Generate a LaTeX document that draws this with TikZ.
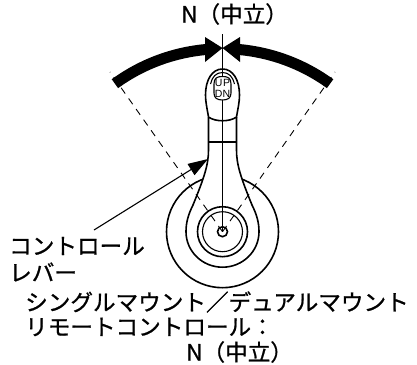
\documentclass[tikz,border=0pt]{standalone}
\usepackage{fontspec}
\setmainfont[RawFeature={embolden=0.9}]{Noto Sans CJK JP}
\newfontfamily\smallfnt{Liberation Sans}
\usetikzlibrary{arrows.meta}
\tikzset{
  lbl/.style={inner sep=0pt,anchor=west,font=\fontsize{22.6}{24}\selectfont},
  small/.style={inner sep=0pt,font=\smallfnt\fontsize{10.5}{11}\selectfont},
  ln/.style={line width=1.6pt,black},
  thin/.style={line width=1.1pt,black},
  dsh/.style={line width=0.9pt,black,dash pattern=on 7pt off 6pt},
  band/.style={line width=11pt,black}
}
\newcommand{\leverpath}{(208.5,117) -- (208.5,150) .. controls (208.5,165) and (204,178) .. (193,205)
  .. controls (188,215) and (186,223) .. (186,231.7)
  .. controls (186,251.3) and (202.3,267.2) .. (222.5,267.2)
  .. controls (242.7,267.2) and (259,251.3) .. (259,231.7)
  .. controls (259,223) and (257,215) .. (252,205)
  .. controls (241,178) and (236.5,165) .. (236.5,150) -- (236.5,117)}
\begin{document}
\begin{tikzpicture}[x=1pt,y=-1pt]
\useasboundingbox (0,0) rectangle (417,364);
\coordinate (P) at (222.5,231.7);
% outer circle, hidden where the lever passes
\draw[ln] (P) circle[radius=56];
\fill[white] \leverpath -- cycle;
% dashed limits
\coordinate (DL) at (110,72);
\coordinate (DR) at (335,72);
\draw[dsh] (P) -- (DL);
\draw[dsh] (P) -- (DR);
% bands
\draw[band] (114.9,83.7) .. controls (141.3,64.5) and (172.5,52.6) .. (206,49.5);
\draw[band] (330.1,83.7) .. controls (303.7,64.5) and (272.5,52.6) .. (239,49.5);
\fill (222.5,48) -- (205,37) -- (205,62) -- cycle;
\fill (222.5,48) -- (240,37) -- (240,62) -- cycle;
% lever outline
\draw[ln] \leverpath;
% head
\draw[ln,fill=white] (208.5,117) .. controls (207,108) and (205.5,102) .. (205.5,95)
  .. controls (205.5,80) and (212,69) .. (222.5,69)
  .. controls (233,69) and (239.5,80) .. (239.5,95)
  .. controls (239.5,102) and (238,108) .. (236.5,117)
  .. controls (230,122) and (215,122) .. (208.5,117);
\draw[thin] (210.5,84) .. controls (212,77) and (216,72.5) .. (222.5,72.5)
  .. controls (229,72.5) and (233,77) .. (234.5,84);
% cross line and axis
\draw[thin] (208.5,142) -- (236.5,142);
\coordinate (AT) at (222.5,34);
\draw[thin] (AT) -- (P);
% pill
\draw[thin,fill=white] (214,84) .. controls (214,78) and (217,76.5) .. (222.5,76.5)
  .. controls (228,76.5) and (231,78) .. (231,84)
  -- (231,93) .. controls (231,98) and (228,100) .. (222.5,100)
  .. controls (217,100) and (214,98) .. (214,93) -- cycle;
\node[small] (up) at (222.5,82.5) {U\kern0.6pt P};
\node[small] (dn) at (222.5,94) {D\kern0.2pt N};
% pivot rings
\draw[ln] (P) circle[radius=25];
\draw[thin] (P) circle[radius=20];
\draw[ln] (P) circle[radius=5];
% labels
\node[lbl] (top) at (181,14) {N（中立）};
\node[lbl] (lev1) at (9,246) {コントロール};
\node[lbl] (lev2) at (9,272) {レバー};
\node[lbl] (t1) at (25,302) {シングルマウント／デュアルマウント};
\node[lbl] (t2) at (25,327) {リモートコントロール：};
\node[lbl] (t3) at (186,352) {N（中立）};
% leader
\coordinate (LS) at (94,230);
\coordinate (LT) at (208,159);
\draw[line width=1.1pt,-{Triangle[length=20pt,width=13pt]}] (LS) -- (LT);
\end{tikzpicture}
\end{document}
